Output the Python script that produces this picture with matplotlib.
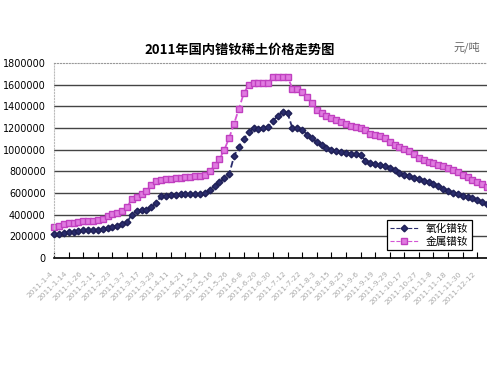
import matplotlib
matplotlib.use("Agg")
import matplotlib.pyplot as plt
import numpy as np

plt.rcParams['font.family'] = ['Noto Sans CJK SC', 'DejaVu Sans']

# 价格数据 (元/吨), 读图估计
oxide = [219, 225, 232, 238, 245, 250, 256, 258, 260, 262,
         265, 276, 287, 300, 317, 333, 400, 430, 440, 448,
         468, 510, 571, 576, 580, 585, 590, 588, 592, 590,
         590, 600, 625, 665, 700, 735, 775, 940, 1030, 1100,
         1160, 1198, 1195, 1200, 1210, 1270, 1310, 1350, 1340, 1198,
         1200, 1185, 1140, 1105, 1070, 1040, 1020, 1000, 990, 978,
         968, 962, 958, 952, 900, 880, 868, 858, 848, 835,
         810, 785, 770, 757, 742, 730, 715, 700, 688, 665,
         640, 623, 605, 588, 575, 565, 552, 535, 518, 500]
metal = [287, 298, 310, 320, 326, 333, 340, 343, 345, 348,
         360, 385, 405, 420, 438, 470, 545, 565, 590, 620,
         675, 715, 722, 728, 733, 736, 742, 748, 752, 756,
         760, 765, 800, 855, 915, 1000, 1110, 1240, 1380, 1520,
         1600, 1614, 1614, 1614, 1616, 1676, 1676, 1676, 1676, 1565,
         1558, 1530, 1491, 1430, 1370, 1335, 1308, 1290, 1272, 1258,
         1240, 1220, 1210, 1200, 1185, 1150, 1140, 1128, 1110, 1070,
         1040, 1025, 1005, 985, 958, 928, 905, 890, 878, 862,
         850, 835, 815, 795, 770, 748, 725, 705, 685, 660]
date_labels = ['2011-1-4', '2011-1-14', '2011-1-26', '2011-2-11', '2011-2-23',
               '2011-3-7', '2011-3-17', '2011-3-29', '2011-4-11', '2011-4-21',
               '2011-5-4', '2011-5-16', '2011-5-26', '2011-6-8', '2011-6-20',
               '2011-6-30', '2011-7-12', '2011-7-22', '2011-8-3', '2011-8-15',
               '2011-8-25', '2011-9-6', '2011-9-19', '2011-9-29', '2011-10-17',
               '2011-10-27', '2011-11-8', '2011-11-18', '2011-11-30', '2011-12-12']
y_ticks = [0, 200000, 400000, 600000, 800000, 1000000,
           1200000, 1400000, 1600000, 1800000]

oxide = np.array(oxide) * 1000
metal = np.array(metal) * 1000
x = np.arange(len(oxide))

fig = plt.figure(figsize=(4.87, 3.65), dpi=100)
ax = fig.add_axes([0.111, 0.293, 0.889, 0.534])

for v in y_ticks[1:-1]:
    ax.axhline(v, color='#444444', lw=1.0, zorder=1)

ax.plot(x, oxide, color='#2a2c6c', ls='--', lw=1.3, marker='D', ms=3.4,
        mfc='#2a2c6c', mec='#1e1f55', label='氧化镨钕', zorder=3, clip_on=False)
ax.plot(x, metal, color='#d455d4', ls='--', lw=1.3, marker='s', ms=3.9,
        mfc='#e07ae0', mec='#c040c0', label='金属镨钕', zorder=2, clip_on=False)

ax.set_xlim(0, len(x) - 1)
ax.set_ylim(0, 1800000)
ax.set_yticks(y_ticks)
ax.set_yticklabels([str(v) for v in y_ticks], fontsize=6.9, family='DejaVu Sans')
ax.set_xticks(x[::3])
ax.set_xticklabels(date_labels, rotation=45, ha='right', fontsize=5.4,
                   color='#aaaaaa', family='DejaVu Sans')
ax.tick_params(axis='y', length=0, pad=6)
ax.tick_params(axis='x', direction='in', length=4, pad=9)

ax.spines['right'].set_visible(False)
ax.spines['top'].set_linestyle(':')
ax.spines['top'].set_color('#999999')
ax.spines['left'].set_linestyle(':')
ax.spines['left'].set_color('#bbbbbb')
ax.spines['bottom'].set_color('black')
ax.spines['bottom'].set_linewidth(1.2)

leg = ax.legend(loc='lower right', bbox_to_anchor=(0.965, 0.041), borderaxespad=0,
                fontsize=7.7, fancybox=False, edgecolor='black', framealpha=1,
                handlelength=2.6, borderpad=0.3, labelspacing=0.3)
leg.get_frame().set_linewidth(0.9)
for h in leg.get_lines():
    h.set_linewidth(0.8)

fig.text(0.493, 0.863, '2011年国内镨钕稀土价格走势图', ha='center', va='center',
         fontsize=9.5, weight='bold')
fig.text(0.985, 0.87, '元/吨', ha='right', va='center', fontsize=8, color='#666666')

fig.savefig('out.png', dpi=100)
